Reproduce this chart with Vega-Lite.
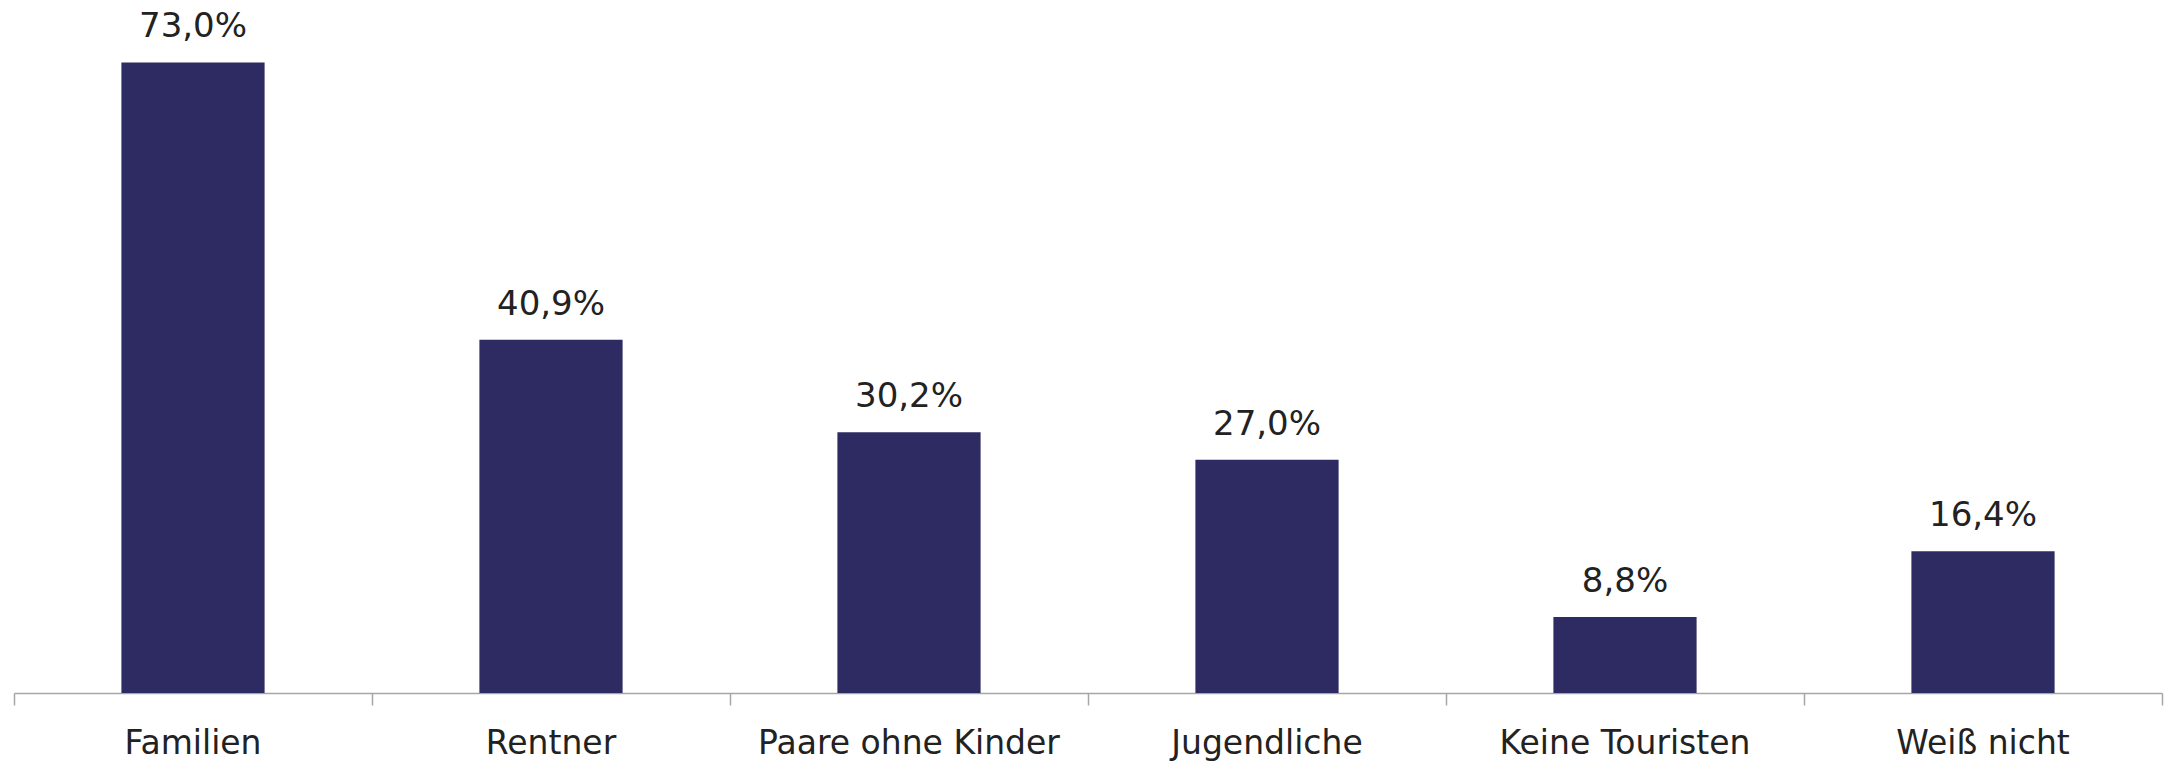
{
  "$schema": "https://vega.github.io/schema/vega-lite/v6.json",
  "autosize": {"type": "none"},
  "padding": {"left": 14, "top": 2, "right": 3, "bottom": 69},
  "width": 2148,
  "height": 691,
  "background": "white",
  "config": {
    "locale": {"number": {"decimal": ",", "thousands": ".", "grouping": [3], "currency": ["", " €"]}},
    "view": {"stroke": null},
    "font": "DejaVu Sans"
  },
  "data": {
    "values": [
      {"gruppe": "Familien", "anteil": 0.730},
      {"gruppe": "Rentner", "anteil": 0.409},
      {"gruppe": "Paare ohne Kinder", "anteil": 0.302},
      {"gruppe": "Jugendliche", "anteil": 0.270},
      {"gruppe": "Keine Touristen", "anteil": 0.088},
      {"gruppe": "Weiß nicht", "anteil": 0.164}
    ]
  },
  "encoding": {
    "x": {
      "field": "gruppe",
      "type": "nominal",
      "sort": null,
      "scale": {"paddingInner": 0, "paddingOuter": 0},
      "axis": {
        "title": null,
        "labelAngle": 0,
        "bandPosition": 1,
        "tickExtra": true,
        "labelBound": false,
        "labelLimit": 0,
        "labelFontSize": 33,
        "labelColor": "#222222",
        "labelFont": "DejaVu Sans",
        "labelPadding": 22,
        "tickSize": 12,
        "tickColor": "#a6a6a6",
        "domainColor": "#a6a6a6",
        "domainWidth": 1.5,
        "tickWidth": 1.5,
        "labelOverlap": false
      }
    },
    "y": {
      "field": "anteil",
      "type": "quantitative",
      "scale": {"domain": [0, 0.8]},
      "axis": null
    }
  },
  "layer": [
    {
      "mark": {"type": "bar", "color": "#2d2b62", "width": {"band": 0.4}}
    },
    {
      "mark": {"type": "text", "baseline": "bottom", "dy": -18, "fontSize": 34, "color": "#222222", "font": "DejaVu Sans"},
      "encoding": {"text": {"field": "anteil", "type": "quantitative", "format": ".1%"}}
    }
  ]
}
